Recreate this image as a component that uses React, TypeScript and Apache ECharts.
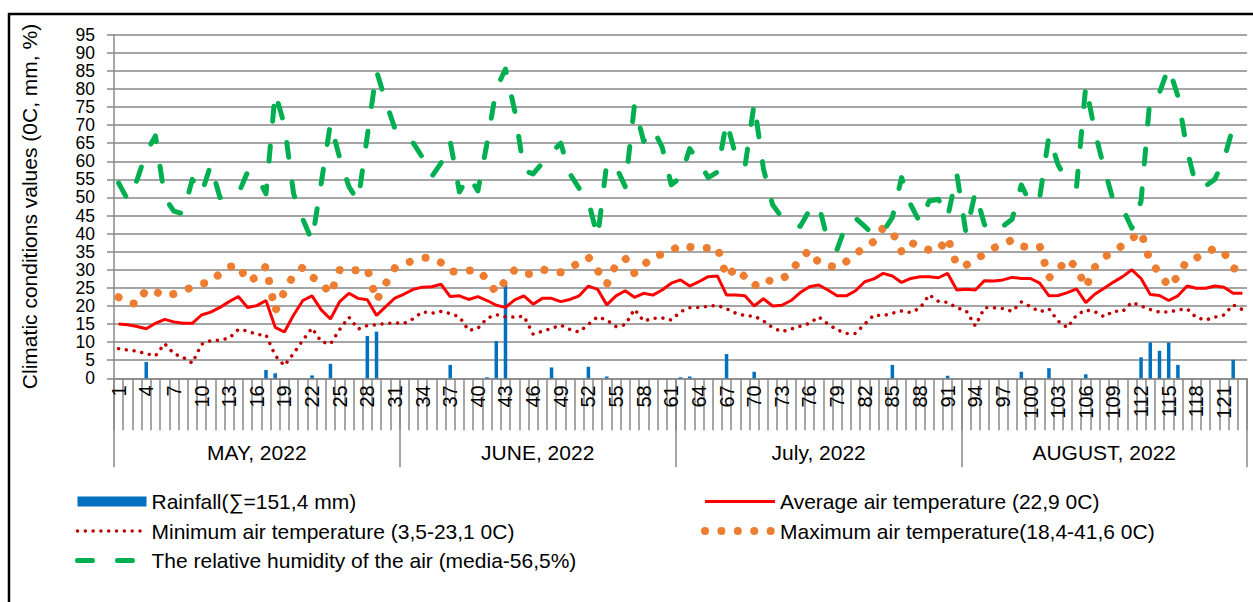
import React, { useEffect, useRef } from "react";
import * as echarts from "echarts";

// Day numbers (1 May – 31 Aug 2022)
const days: string[] = Array.from({ length: 123 }, (_, i) => String(i + 1));
const months = ["MAY, 2022", "JUNE, 2022", "July, 2022", "AUGUST, 2022"];
const monthStartIdx = [0, 31, 61, 92];
const monthLabelIdx = [15, 45, 76, 107];

// Rainfall, mm
const rainMay = [0, 0, 0, 4.5, 0, 0, 0, 0, 0, 0, 0, 0, 0, 0, 0, 0, 2.3, 1.4, 0, 0, 0, 0.8, 0, 4.0, 0, 0, 0, 11.7, 12.9, 0, 0];
const rainJune = [0, 0, 0, 0, 0, 3.7, 0, 0, 0, 0.3, 10.3, 25.8, 0, 0, 0, 0, 3.0, 0, 0, 0, 3.2, 0, 0.5, 0, 0, 0, 0, 0, 0, 0];
const rainJuly = [0.3, 0.5, 0, 0, 0, 6.7, 0, 0, 1.8, 0, 0, 0, 0, 0, 0, 0, 0, 0, 0, 0, 0, 0, 0, 3.7, 0, 0, 0, 0, 0, 0.7, 0];
const rainAug = [0, 0, 0, 0, 0, 0, 1.8, 0, 0, 2.8, 0, 0, 0, 1.1, 0, 0, 0, 0, 0, 5.8, 9.9, 7.6, 9.9, 3.7, 0, 0, 0, 0, 0, 5.1, 0];

// Average air temperature, °C
const avgMay = [15.0, 14.8, 14.3, 13.7, 15.2, 16.3, 15.6, 15.2, 15.2, 17.5, 18.3, 19.6, 21.2, 22.6, 19.6, 20.1, 21.5, 14.1, 12.8, 17.5, 21.5, 22.8, 18.9, 16.4, 21.2, 23.5, 22.1, 21.7, 17.4, 19.8, 22.2];
const avgJune = [23.3, 24.6, 25.2, 25.3, 26.0, 22.6, 22.8, 21.8, 22.6, 21.5, 20.2, 19.6, 21.7, 22.8, 20.5, 22.1, 22.1, 21.2, 21.8, 22.8, 25.5, 24.6, 20.3, 22.8, 24.2, 22.4, 23.5, 23.0, 24.4, 26.3];
const avgJuly = [27.2, 25.5, 26.7, 28.1, 28.3, 23.0, 23.0, 22.8, 20.0, 22.0, 20.0, 20.2, 21.5, 23.7, 25.3, 25.8, 24.4, 22.8, 22.8, 24.2, 26.7, 27.5, 29.0, 28.3, 26.5, 27.6, 28.1, 28.1, 27.8, 29.0, 24.4];
const avgAug = [24.6, 24.4, 27.0, 26.9, 27.2, 27.9, 27.6, 27.6, 26.3, 22.8, 22.9, 23.7, 24.7, 20.9, 23.3, 24.9, 26.6, 28.1, 30.0, 27.6, 23.2, 22.9, 21.5, 22.8, 25.5, 24.9, 24.9, 25.5, 25.2, 23.5, 23.5];

// Minimum air temperature, °C
const minMay = [8.2, 7.8, 7.5, 6.8, 6.2, 9.6, 6.8, 5.8, 4.2, 9.4, 10.4, 10.6, 11.1, 13.5, 13.1, 12.1, 12.0, 6.3, 3.5, 6.9, 10.5, 13.9, 10.1, 9.5, 13.5, 16.9, 13.6, 14.6, 14.8, 15.2, 15.3];
const minJune = [15.2, 16.5, 18.4, 18.0, 18.5, 17.9, 17.0, 13.2, 13.8, 16.6, 17.6, 17.0, 16.9, 17.2, 12.2, 13.0, 13.8, 14.7, 13.5, 12.8, 14.9, 17.0, 16.1, 14.3, 14.8, 19.1, 15.8, 16.6, 16.7, 16.1];
const minJuly = [18.4, 19.5, 19.6, 19.9, 20.2, 19.2, 18.0, 17.3, 17.2, 15.9, 14.0, 12.9, 13.6, 14.4, 15.2, 17.0, 15.0, 13.4, 12.4, 12.4, 15.0, 17.5, 17.3, 18.0, 18.6, 18.2, 19.4, 23.1, 21.3, 21.0, 19.5];
const minAug = [18.7, 14.5, 19.5, 19.5, 19.3, 18.5, 21.1, 19.8, 18.4, 19.2, 15.8, 14.0, 17.5, 18.9, 18.4, 17.0, 18.6, 18.5, 21.0, 20.0, 19.0, 18.3, 18.3, 18.9, 19.2, 16.8, 16.1, 16.9, 17.5, 20.3, 19.0];

// Maximum air temperature, °C
const maxMay = [22.4, 21.0, 20.5, 24.5, 24.0, 22.7, 23.3, 24.2, 25.2, 26.2, 26.5, 29.0, 30.8, 31.3, 26.8, 28.0, 31.0, 18.6, 24.0, 28.5, 30.7, 28.0, 26.5, 23.3, 30.0, 29.5, 30.0, 30.3, 21.5, 26.2, 30.5];
const maxJune = [31.7, 32.5, 33.3, 33.3, 32.0, 29.5, 29.5, 29.8, 30.0, 27.3, 23.7, 27.0, 30.0, 28.7, 29.0, 30.1, 29.5, 29.3, 30.5, 32.0, 33.5, 29.8, 26.0, 31.5, 33.2, 29.0, 31.3, 33.7, 34.3, 35.3];
const maxJuly = [36.8, 36.3, 36.0, 36.0, 36.2, 28.0, 30.5, 28.0, 25.5, 27.5, 26.7, 27.5, 29.2, 33.3, 35.3, 32.0, 31.2, 30.6, 32.3, 34.3, 36.3, 37.8, 41.6, 40.5, 35.0, 37.6, 36.2, 35.5, 35.3, 38.9, 31.2];
const maxAug = [31.3, 32.8, 34.4, 36.0, 37.2, 38.2, 36.5, 36.2, 36.5, 27.8, 30.0, 33.0, 30.6, 25.2, 30.8, 33.5, 35.0, 36.8, 38.6, 40.5, 32.0, 29.3, 25.3, 28.2, 32.7, 33.3, 34.5, 36.0, 34.8, 30.5, 29.5];

// Relative humidity of the air, %
const humMay = [54.0, 49.3, 54.8, 62.5, 67.0, 50.0, 46.2, 45.5, 55.0, 51.0, 59.0, 50.0, 50.5, 51.0, 57.0, 56.0, 51.0, 79.0, 70.0, 51.0, 44.0, 38.0, 54.0, 70.5, 61.0, 53.0, 49.0, 67.0, 85.0, 76.5, 69.0];
const humJune = [66.8, 65.0, 61.0, 55.8, 59.5, 65.5, 51.5, 56.0, 51.8, 65.0, 80.0, 85.5, 74.0, 57.5, 56.5, 59.5, 62.5, 65.0, 56.5, 52.5, 49.0, 39.0, 59.5, 58.5, 53.0, 75.5, 65.5, 69.0, 64.0, 53.5];
const humJuly = [55.5, 63.5, 60.0, 55.5, 57.0, 71.0, 61.5, 58.5, 76.0, 58.0, 48.0, 44.5, 43.0, 42.0, 46.5, 48.0, 38.0, 35.6, 42.7, 44.3, 42.0, 39.5, 40.5, 44.5, 55.5, 48.0, 43.0, 49.0, 49.5, 44.5, 56.5];
const humAug = [40.0, 51.5, 42.5, 40.3, 42.0, 44.0, 53.5, 48.2, 50.0, 67.0, 59.0, 54.5, 53.0, 81.0, 68.0, 58.0, 49.0, 47.0, 41.5, 49.0, 78.3, 79.0, 86.0, 78.0, 63.0, 53.0, 53.2, 55.0, 60.5, 69.6, 68.2];

const rainfall = [...rainMay, ...rainJune, ...rainJuly, ...rainAug];
const avgTemp = [...avgMay, ...avgJune, ...avgJuly, ...avgAug];
const minTemp = [...minMay, ...minJune, ...minJuly, ...minAug];
const maxTemp = [...maxMay, ...maxJune, ...maxJuly, ...maxAug];
const humidity = [...humMay, ...humJune, ...humJuly, ...humAug];

const yTitle = "Climatic conditions values (0C, mm, %)";
const nRain = "Rainfall(∑=151,4 mm)";
const nAvg = "Average air temperature (22,9 0C)";
const nMin = "Minimum air temperature (3,5-23,1 0C)";
const nMax = "Maximum air temperature(18,4-41,6 0C)";
const nHum = "The relative humidity of the air (media-56,5%)";

const FONT = "'Liberation Sans', Arial, sans-serif";
const GRAY = "#888888";
const hideSym = { itemStyle: { opacity: 0 } };

export default function App() {
  const ref = useRef<HTMLDivElement>(null);
  useEffect(() => {
    if (!ref.current) return;
    const chart = echarts.init(ref.current, undefined, { renderer: "svg" });
    const legendText = { fontSize: 21, color: "#000", fontFamily: FONT, lineHeight: 20 };
    const option: any = {
      animation: false,
      textStyle: { fontFamily: FONT },
      grid: { left: 114, top: 34.7, width: 1133, height: 343.6, containLabel: false },
      graphic: [
        {
          type: "rect",
          shape: { x: 9, y: 14, width: 1300, height: 700 },
          style: { fill: "none", stroke: "#000", lineWidth: 2.5 },
          silent: true,
        },
      ],
      legend: [
        {
          left: 75,
          top: 491,
          padding: 0,
          orient: "vertical",
          itemWidth: 69,
          itemHeight: 10,
          itemGap: 8.5,
          lineStyle: { width: "inherit" },
          textStyle: legendText,
          data: [
            { name: nRain, icon: "rect" },
            { name: nMin, ...hideSym },
            { name: nHum, ...hideSym },
          ],
        },
        {
          left: 701,
          top: 491,
          padding: 0,
          orient: "vertical",
          itemWidth: 70,
          itemHeight: 10,
          itemGap: 8.5,
          lineStyle: { width: "inherit" },
          textStyle: legendText,
          data: [
            { name: nAvg, ...hideSym },
            { name: nMax, ...hideSym },
          ],
        },
      ],
      xAxis: [
        {
          type: "category",
          data: days,
          position: "bottom",
          boundaryGap: true,
          axisLine: { lineStyle: { color: GRAY, width: 1.5 } },
          axisTick: { show: true, interval: 0, length: 52, lineStyle: { color: GRAY, width: 1.5 } },
          axisLabel: { interval: 2, rotate: 90, margin: 7, fontSize: 20, color: "#000", fontFamily: FONT },
          splitLine: { show: false },
        },
        {
          type: "category",
          data: days,
          position: "bottom",
          boundaryGap: true,
          axisLine: { show: false },
          axisTick: {
            show: true,
            interval: (i: number) => monthStartIdx.includes(i),
            length: 89,
            lineStyle: { color: GRAY, width: 1.5 },
          },
          axisLabel: {
            interval: (i: number) => monthLabelIdx.includes(i),
            formatter: (_v: string, i: number) => {
              const m = monthLabelIdx.indexOf(i);
              if (m < 0) return "";
              return m === 1 ? "{s|" + months[m] + "}" : months[m];
            },
            rich: { s: { padding: [0, 0, 0, 9.2], fontSize: 21, color: "#000", fontFamily: FONT } },
            margin: 64,
            fontSize: 21,
            color: "#000",
            fontFamily: FONT,
          },
          splitLine: { show: false },
        },
      ],
      yAxis: {
        type: "value",
        min: 0,
        max: 95,
        interval: 5,
        name: yTitle,
        nameLocation: "middle",
        nameRotate: 90,
        nameGap: 74,
        nameTextStyle: { fontSize: 21, color: "#000", fontFamily: FONT },
        axisLine: { show: true, lineStyle: { color: GRAY, width: 1.5 } },
        axisTick: { show: true, length: 7, lineStyle: { color: GRAY, width: 1.5 } },
        splitLine: { lineStyle: { color: GRAY, width: 1.5 } },
        axisLabel: {
          fontSize: 17.5,
          color: "#000",
          margin: 19,
          fontFamily: FONT,
          showMinLabel: true,
          showMaxLabel: true,
        },
      },
      series: [
        {
          name: nRain,
          type: "bar",
          data: rainfall,
          barWidth: 3.5,
          color: "#0070C0",
          itemStyle: { color: "#0070C0" },
        },
        {
          name: nAvg,
          type: "line",
          data: avgTemp,
          symbol: "none",
          color: "#FF0000",
          lineStyle: { color: "#FF0000", width: 3 },
        },
        {
          name: nMin,
          type: "line",
          data: minTemp,
          symbol: "none",
          color: "#C00000",
          lineStyle: { color: "#C00000", width: 3.5, type: [0.01, 7.8], cap: "round" },
        },
        {
          name: nMax,
          type: "line",
          data: maxTemp,
          symbol: "none",
          color: "#ED7D31",
          lineStyle: { color: "#ED7D31", width: 8, type: [0.01, 16.4], cap: "round" },
        },
        {
          name: nHum,
          type: "line",
          data: humidity,
          symbol: "none",
          color: "#00B050",
          lineStyle: { color: "#00B050", width: 5, type: [15, 25], cap: "round", join: "round" },
        },
      ],
    };
    chart.setOption(option);
    return () => chart.dispose();
  }, []);
  return (
    <div
      ref={ref}
      style={{ position: "absolute", left: 0, top: 0, width: 1253, height: 602, background: "#fff" }}
    />
  );
}
